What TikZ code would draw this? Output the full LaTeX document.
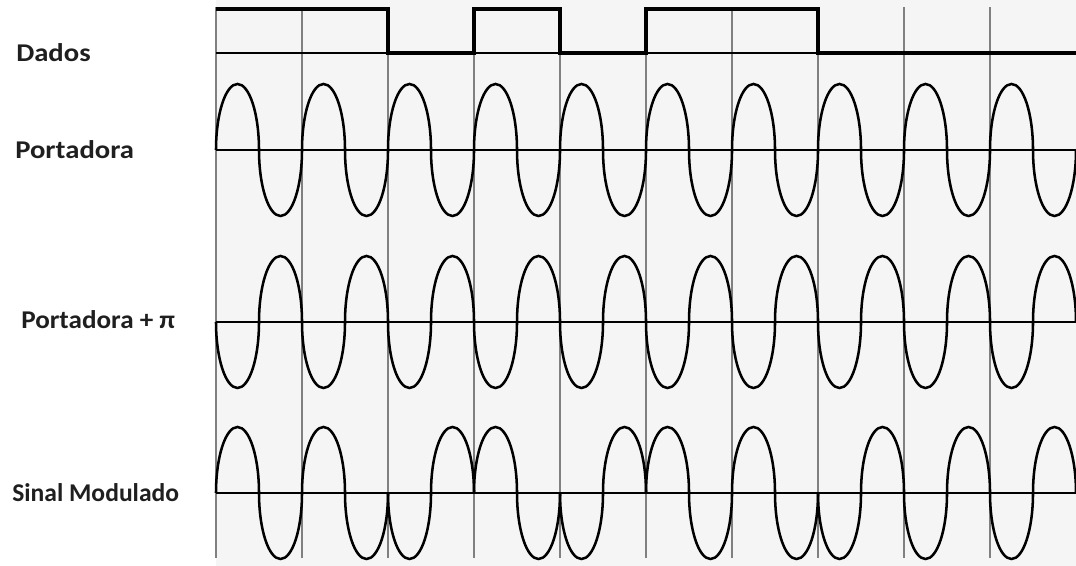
\documentclass[tikz,border=0pt]{standalone}
\usepackage{fontspec}
\setmainfont{Carlito}
\newfontfamily\widesans{Carlito}[FakeStretch=1.12]
\newfontfamily\midsans{Carlito}[FakeStretch=1.06]

\begin{document}
\begin{tikzpicture}[
    x=0.25mm, y=0.25mm,
    sigtext/.style={anchor=west, inner sep=0pt, text=black!88,
        font=\fontsize{18.2}{20}\selectfont\bfseries},
    gridline/.style={draw=black!50, line width=1.3pt},
    axisline/.style={draw=black, line width=1.3pt},
    wave/.style={draw=black, line width=1.8pt},
    datawave/.style={draw=black, line width=2.4pt, line join=miter},
    half/.style={x radius=21.5, y radius=66},
]
\useasboundingbox (0,0) rectangle (1076,566);
\fill[black!4] (216,0) rectangle (1076,566);

% bit boundaries
\foreach \k in {0,...,9}
  \draw[gridline] (216+86*\k,8) -- (216+86*\k,559);

% signal labels
\node[sigtext] (dados) at (16,513) {\widesans\bfseries Dados};
\node[sigtext] (port)  at (15,416) {\widesans\bfseries Portadora};
\node[sigtext] (portpi) at (21,246) {\midsans\bfseries Portadora + π};
\node[sigtext] (sinal) at (12,73)  {Sinal Modulado};

% axes
\draw[axisline] (216,513) -- (1076,513);
\draw[axisline] (216,416) -- (1076,416);
\draw[axisline] (216,244) -- (1076,244);
\draw[axisline] (216,73)  -- (1076,73);

% data: 1101011000
\def\databits{1,1,0,1,0,1,1,0,0,0}
\draw[datawave] (216,557)
  foreach \b [count=\k] in \databits {
    -- (216+86*\k-86,513+44*\b) -- (216+86*\k,513+44*\b)
  };

% carrier
\draw[wave] (216,416) foreach \k in {0,...,9} {
    arc[start angle=180, end angle=0, half]
    arc[start angle=180, end angle=360, half]
  };

% carrier + pi
\draw[wave] (216,244) foreach \k in {0,...,9} {
    arc[start angle=180, end angle=360, half]
    arc[start angle=180, end angle=0, half]
  };

% modulated signal
\foreach \b [count=\k from 0] in \databits {
  \pgfmathsetmacro\ea{360*(1-\b)}
  \pgfmathsetmacro\eb{360*\b}
  \draw[wave] (216+86*\k,73)
    arc[start angle=180, end angle=\ea, half]
    arc[start angle=180, end angle=\eb, half];
}
\end{tikzpicture}
\end{document}
